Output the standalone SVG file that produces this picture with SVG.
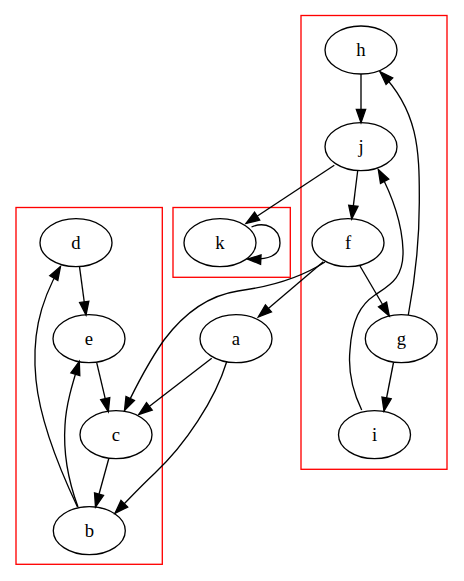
<svg xmlns="http://www.w3.org/2000/svg" width="464" height="581" viewBox="0 0 464 581">
<style>
.cl{fill:none;stroke:#ff0000;stroke-width:1.33}
.nd ellipse{fill:none;stroke:#000;stroke-width:1.33}
.nd text{font-family:"Liberation Serif","Times New Roman",serif;font-size:18.67px;text-anchor:middle;fill:#000}
.ed path{fill:none;stroke:#000;stroke-width:1.33;marker-end:url(#ah)}
</style>
<defs>
<marker id="ah" markerUnits="userSpaceOnUse" markerWidth="16" markerHeight="12" refX="13.33" refY="0" orient="auto" viewBox="-1 -6 16 12" overflow="visible">
<path d="M0,-4.67 L13.33,0 L0,4.67 Z" fill="#000" stroke="#000" stroke-width="1.33"/>
</marker>
</defs>
<rect width="464" height="581" fill="#fff"/>
<g id="clusters">
<rect class="cl" x="16" y="207.5" width="146.3" height="356.8"/>
<rect class="cl" x="173" y="207.5" width="117.3" height="69.8"/>
<rect class="cl" x="301" y="15.5" width="146" height="453.8"/>
</g>
<g id="edges" class="ed">
<path d="M361,74 L361,122.7"/>
<path d="M334.3,165.3 L246,223.5"/>
<path d="M357.7,170.7 L351.7,219"/>
<path d="M360,266 L389.3,316"/>
<path d="M393.5,362.5 L384,411"/>
<path d="M323.3,261.7 L258.3,317"/>
<path d="M211.7,358.3 L138.8,414.5"/>
<path d="M79.5,266.7 L86,315"/>
<path d="M96.7,362.7 L108.3,411.7"/>
<path d="M108.8,458.5 L95.5,507"/>
<path d="M325,262 C305,275 275,286 238,291 C205,296 182,316 164,340 C150,360 138,382 124.5,410.5"/>
<path d="M361.7,410 C352,390 348,370 350,350 C352,320 360,305 375,295 C390,285 404,278 403,250 C402,222 392,195 378.3,169.5"/>
<path d="M408.3,315 C414,285 419.5,245 419.3,200 C419.5,150 418,110 380,71.7"/>
<path d="M226.7,361.7 C215,400 185,445 155,473 C140,487 128,500 115,513.3"/>
<path d="M77.5,507 C60,470 40,420 36,380 C32,340 38,305 60.5,266.5"/>
<path d="M78,507 C68,480 63,455 65,425 C66,405 72,385 79.3,361.5"/>
<path d="M251.5,227 C265,221 280,228 280,243 C280,256 268,260 247.5,259"/>
</g>
<g id="h" class="nd"><ellipse cx="361" cy="50" rx="36" ry="24"/><text x="361" y="56">h</text></g>
<g id="j" class="nd"><ellipse cx="361" cy="146.7" rx="36" ry="24"/><text x="361" y="152.7">j</text></g>
<g id="f" class="nd"><ellipse cx="348" cy="242.7" rx="36" ry="24"/><text x="348" y="248.7">f</text></g>
<g id="k" class="nd"><ellipse cx="220" cy="242.7" rx="36" ry="24"/><text x="220" y="248.7">k</text></g>
<g id="d" class="nd"><ellipse cx="76" cy="242.7" rx="36" ry="24"/><text x="76" y="248.7">d</text></g>
<g id="e" class="nd"><ellipse cx="89" cy="338.7" rx="36" ry="24"/><text x="89" y="344.7">e</text></g>
<g id="a" class="nd"><ellipse cx="236" cy="338.7" rx="36" ry="24"/><text x="236" y="344.7">a</text></g>
<g id="g" class="nd"><ellipse cx="401.3" cy="338.7" rx="36" ry="24"/><text x="401.3" y="344.7">g</text></g>
<g id="c" class="nd"><ellipse cx="116" cy="434.7" rx="36" ry="24"/><text x="116" y="440.7">c</text></g>
<g id="i" class="nd"><ellipse cx="374.5" cy="434.7" rx="36" ry="24"/><text x="374.5" y="440.7">i</text></g>
<g id="b" class="nd"><ellipse cx="89.3" cy="530.7" rx="36" ry="24"/><text x="89.3" y="536.7">b</text></g>
</svg>
